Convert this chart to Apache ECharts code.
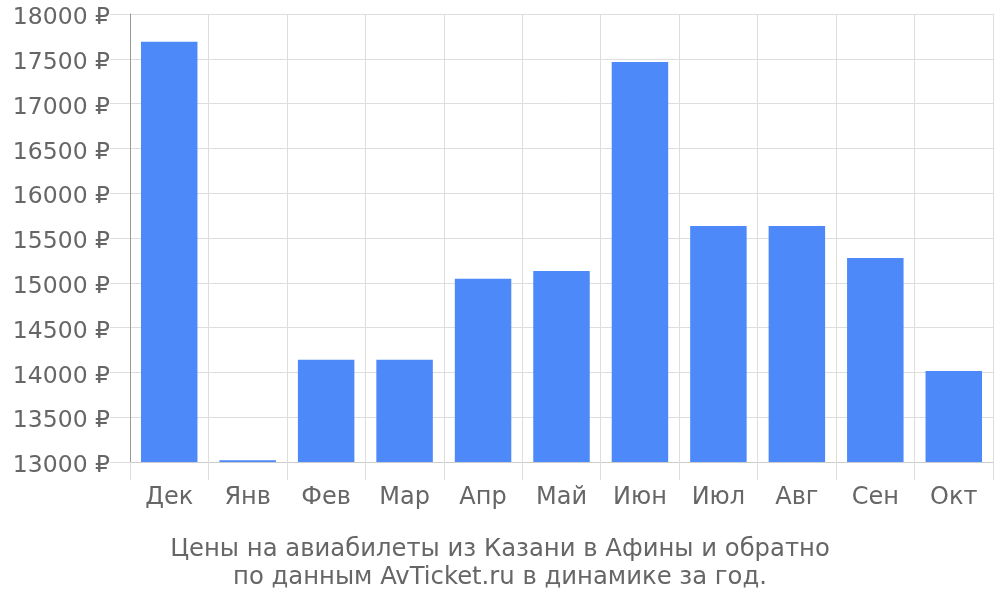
<!DOCTYPE html>
<html>
<head>
<meta charset="utf-8">
<script src="https://cdn.jsdelivr.net/npm/echarts@6/dist/echarts.min.js"></script>
<style>
  html, body { margin: 0; padding: 0; background: #fff; }
  #main { width: 1000px; height: 600px; }
</style>
</head>
<body>
<div id="main"></div>
<script>
var months = ['Дек', 'Янв', 'Фев', 'Мар', 'Апр', 'Май', 'Июн', 'Июл', 'Авг', 'Сен', 'Окт'];
var prices = [17690, 13020, 14140, 14140, 15045, 15132, 17464, 15634, 15634, 15277, 14016];
var titleLines = [
  'Цены на авиабилеты из Казани в Афины и обратно',
  'по данным AvTicket.ru в динамике за год.'
];

var chartDom = document.getElementById('main');
var myChart = echarts.init(chartDom);
var option;

option = {
  textStyle: { fontFamily: 'DejaVu Sans' },
  graphic: [
    {
      type: 'text',
      left: 'center',
      top: 536,
      style: {
        text: titleLines.join('\n'),
        textAlign: 'center',
        font: '24.3px "DejaVu Sans"',
        fill: '#666',
        lineHeight: 28
      }
    }
  ],
  grid: {
    left: 130,
    right: 7,
    top: 14,
    bottom: 138,
    containLabel: false
  },
  xAxis: {
    type: 'category',
    data: months,
    axisLine: { lineStyle: { color: '#ccc' } },
    axisTick: { show: true, length: 18, lineStyle: { color: '#ddd' } },
    splitLine: { show: true, lineStyle: { color: '#ddd' } },
    axisLabel: { fontSize: 24, color: '#666', margin: 24, fontFamily: 'DejaVu Sans' }
  },
  yAxis: {
    type: 'value',
    min: 13000,
    max: 18000,
    interval: 500,
    axisLine: { show: true, lineStyle: { color: '#999' } },
    axisTick: { show: true, length: 20, lineStyle: { color: '#ddd' } },
    splitLine: { lineStyle: { color: '#ddd' } },
    axisLabel: {
      color: '#666',
      margin: 20,
      formatter: function (v) { return '{v|' + v + ' ₽}'; },
      rich: {
        v: {
          fontSize: 23.5,
          color: '#666',
          fontFamily: 'DejaVu Sans',
          padding: [8, 0, 0, 0]
        }
      }
    }
  },
  series: [
    {
      type: 'bar',
      data: prices,
      barWidth: '72%',
      itemStyle: { color: '#4d89f9' }
    }
  ]
};

option && myChart.setOption(option);
</script>
</body>
</html>
